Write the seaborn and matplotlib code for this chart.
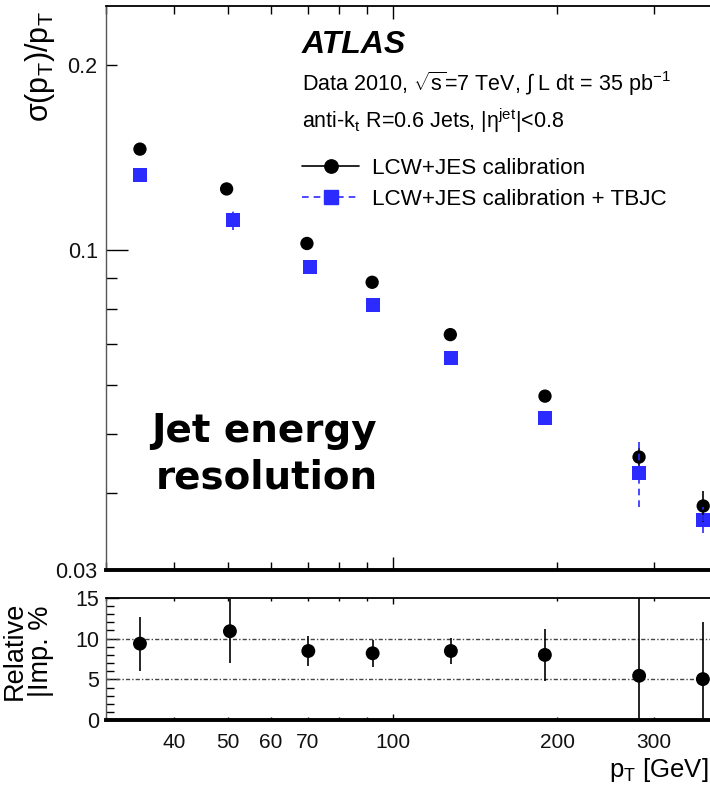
import numpy as np
import pandas as pd
import matplotlib
matplotlib.use("Agg")
import matplotlib.pyplot as plt
import seaborn as sns
from matplotlib.ticker import FixedLocator, FuncFormatter, NullFormatter
from matplotlib.lines import Line2D

# ---------------- data ----------------
pt_lcw = [34.6, 49.8, 69.8, 91.8, 127.5, 189.8, 281.8, 369.0]
res_lcw = [0.1459, 0.1256, 0.1023, 0.0884, 0.0726, 0.0576, 0.0458, 0.0381]
err_lcw = [0.0010, 0.0012, 0.0010, 0.0010, 0.0015, 0.0012, 0.0015, 0.0022]

pt_tbjc = [34.6, 51.2, 70.6, 92.3, 128.0, 190.0, 282.0, 369.0]
res_tbjc = [0.1322, 0.1119, 0.0936, 0.0812, 0.0664, 0.0530, 0.0432, 0.0362]
err_tbjc = [0.0010, 0.0041, 0.0010, 0.0010, 0.0010, 0.0010, 0.0053, 0.0018]

pt_imp = [34.6, 50.5, 70.2, 92.0, 127.8, 189.7, 281.9, 368.5]
imp = [9.38, 10.9, 8.48, 8.2, 8.48, 8.0, 5.45, 5.04]
imp_err = [3.3, 3.9, 1.8, 1.65, 1.55, 3.2, 10.0, 7.0]

x_labeled = [40, 50, 60, 70, 100, 200, 300]
y_labeled = [0.03, 0.1, 0.2]
imp_ticks = [0, 5, 10, 15]

label_lcw = "LCW+JES calibration"
label_tbjc = "LCW+JES calibration + TBJC"

df_lcw = pd.DataFrame({"pt": pt_lcw, "res": res_lcw})
df_tbjc = pd.DataFrame({"pt": pt_tbjc, "res": res_tbjc})
df_imp = pd.DataFrame({"pt": pt_imp, "imp": imp})

# ---------------- style ----------------
sns.set_style("white")
plt.rcParams["font.family"] = ["Liberation Sans", "DejaVu Sans"]
plt.rcParams["mathtext.fontset"] = "custom"
plt.rcParams["mathtext.rm"] = "Liberation Sans"
plt.rcParams["mathtext.it"] = "Liberation Sans:italic"
plt.rcParams["mathtext.default"] = "regular"
plt.rcParams["text.color"] = "black"

W, H = 710, 786
fig = plt.figure(figsize=(W / 100, H / 100), dpi=100)
fx = lambda p: p / W
fy = lambda p: 1 - p / H

L, R = 106, 775.5
ax = fig.add_axes([fx(L), fy(569.5), fx(R) - fx(L), fy(6) - fy(569.5)])
ax2 = fig.add_axes([fx(L), fy(720.3), fx(R) - fx(L), fy(597.7) - fy(720.3)])

BLUE = "#2b2bff"

# ---------------- top panel ----------------
eb1 = ax.errorbar(pt_lcw, res_lcw, yerr=err_lcw, fmt="none", ecolor="black",
                  elinewidth=1.2, capsize=0, zorder=4)
eb2 = ax.errorbar(pt_tbjc, res_tbjc, yerr=err_tbjc, fmt="none", ecolor=BLUE,
                  elinewidth=1.2, capsize=0, zorder=4)
eb2[2][0].set_linestyle((0, (4, 3)))
sns.scatterplot(data=df_lcw, x="pt", y="res", marker="o", s=92, color="black",
                edgecolor="none", ax=ax, zorder=3)
sns.scatterplot(data=df_tbjc, x="pt", y="res", marker="s", s=100, color=BLUE,
                edgecolor="none", ax=ax, zorder=3)

ax.set_xscale("log")
ax.set_yscale("log")
ax.set_xlim(30, 500)
ax.set_ylim(0.03, 0.25)
ax.set_xlabel("")
ax.set_ylabel("")

x_minor = [30, 40, 50, 60, 70, 80, 90, 200, 300, 400]
ax.xaxis.set_major_locator(FixedLocator([100]))
ax.xaxis.set_minor_locator(FixedLocator(x_minor))
ax.xaxis.set_major_formatter(NullFormatter())
ax.xaxis.set_minor_formatter(NullFormatter())
ax.tick_params(axis="x", which="both", direction="in", top=True, bottom=True,
               labelbottom=False, width=1, color="black")
ax.tick_params(axis="x", which="major", length=9.5)
ax.tick_params(axis="x", which="minor", length=5.5)

y_minor = [0.03, 0.04, 0.05, 0.06, 0.07, 0.08, 0.09, 0.2]
ax.yaxis.set_major_locator(FixedLocator([0.1]))
ax.yaxis.set_minor_locator(FixedLocator(y_minor))
fmt_y = FuncFormatter(lambda v, p: (f"{v:g}" if any(abs(v - t) < 1e-9 for t in y_labeled) else ""))
ax.yaxis.set_major_formatter(fmt_y)
ax.yaxis.set_minor_formatter(fmt_y)
ax.tick_params(axis="y", which="both", direction="in", left=True, right=False,
               labelsize=15.5, pad=6, width=1, color="black", labelcolor="#111111")
ax.tick_params(axis="y", which="major", length=16)
ax.tick_params(axis="y", which="minor", length=8)

ax.spines["left"].set_linewidth(1.0)
ax.spines["left"].set_color("#555555")
ax.spines["top"].set_linewidth(1.3)
ax.spines["bottom"].set_linewidth(2.8)
ax.spines["right"].set_visible(False)
for s in ax.spines.values():
    if s is not ax.spines["left"]:
        s.set_color("black")

handles = [
    Line2D([0], [0], color="black", lw=1.2, marker="o", markersize=9.6),
    Line2D([0], [0], color=BLUE, lw=1.2, ls=(0, (4, 3)), marker="s", markersize=10),
]
leg = ax.legend(handles, [label_lcw, label_tbjc], loc="upper left",
                bbox_to_anchor=(fx(302), fy(158)), bbox_transform=fig.transFigure,
                frameon=False, fontsize=16.2, handlelength=2.55, handletextpad=0.55,
                labelspacing=0.45, borderpad=0, borderaxespad=0)

fig.text(fx(302), fy(53.3), "ATLAS", fontsize=23, weight="bold", style="italic",
         va="baseline", ha="left")
fig.text(fx(302), fy(91), r"Data 2010, $\sqrt{s}$=7 TeV, $\int$ L dt = 35 pb$^{-1}$",
         fontsize=15.5, va="baseline", ha="left")
fig.text(fx(302), fy(128.3), r"anti-k$_{t}$ R=0.6 Jets, |$\eta^{jet}$|<0.8",
         fontsize=15.5, va="baseline", ha="left")

fig.text(fx(264), fy(441.7), "Jet energy", fontsize=28, weight="bold",
         family=["DejaVu Sans"], ha="center", va="baseline", color="black")
fig.text(fx(267), fy(488.3), "resolution", fontsize=28, weight="bold",
         family=["DejaVu Sans"], ha="center", va="baseline", color="black")

fig.text(fx(40), fy(11), r"σ(p$_{T}$)/p$_{T}$", rotation=90, ha="center", va="top",
         fontsize=22)

# ---------------- bottom panel ----------------
ax2.axhline(5, color="#444444", lw=1.0, ls=(0, (3, 1.5, 1, 1.5)), zorder=1)
ax2.axhline(10, color="#444444", lw=1.0, ls=(0, (3, 1.5, 1, 1.5)), zorder=1)
ax2.errorbar(pt_imp, imp, yerr=imp_err, fmt="none", ecolor="black",
             elinewidth=1.2, capsize=0, zorder=4)
sns.scatterplot(data=df_imp, x="pt", y="imp", marker="o", s=100, color="black",
                edgecolor="none", ax=ax2, zorder=3)
ax2.set_xscale("log")
ax2.set_xlim(30, 500)
ax2.set_ylim(0, 15)
ax2.set_xlabel("")
ax2.set_ylabel("")

ax2.xaxis.set_major_locator(FixedLocator([100]))
ax2.xaxis.set_minor_locator(FixedLocator(x_minor))
fmt_x = FuncFormatter(lambda v, p: (f"{v:g}" if any(abs(v - t) < 1e-6 for t in x_labeled) else ""))
ax2.xaxis.set_major_formatter(fmt_x)
ax2.xaxis.set_minor_formatter(fmt_x)
ax2.tick_params(axis="x", which="both", direction="in", top=True, bottom=True,
                labelsize=15, pad=9, width=1, color="black", labelcolor="#111111")
ax2.tick_params(axis="x", which="major", length=4)
ax2.tick_params(axis="x", which="minor", length=2.5)

ax2.yaxis.set_major_locator(FixedLocator(imp_ticks))
ax2.yaxis.set_minor_locator(FixedLocator(list(range(0, 16))))
ax2.yaxis.set_major_formatter(FuncFormatter(lambda v, p: f"{v:g}"))
ax2.tick_params(axis="y", which="both", direction="in", left=True, right=False,
                labelsize=15.5, pad=5, width=1, color="black", labelcolor="#111111")
ax2.tick_params(axis="y", which="major", length=9)
ax2.tick_params(axis="y", which="minor", length=6)

ax2.spines["left"].set_linewidth(1.0)
ax2.spines["left"].set_color("#555555")
ax2.spines["top"].set_linewidth(1.3)
ax2.spines["bottom"].set_linewidth(2.8)
ax2.spines["right"].set_visible(False)
ax2.spines["top"].set_color("black")
ax2.spines["bottom"].set_color("black")

fig.text(fx(28), fy(651), "Relative\n|Imp. %", rotation=90, ha="center", va="center",
         fontsize=19.5, multialignment="center", linespacing=1.05)
fig.text(fx(708), fy(770), r"p$_{T}$ [GeV]", ha="right", va="center", fontsize=18.5)

fig.savefig("out.png", dpi=100)
